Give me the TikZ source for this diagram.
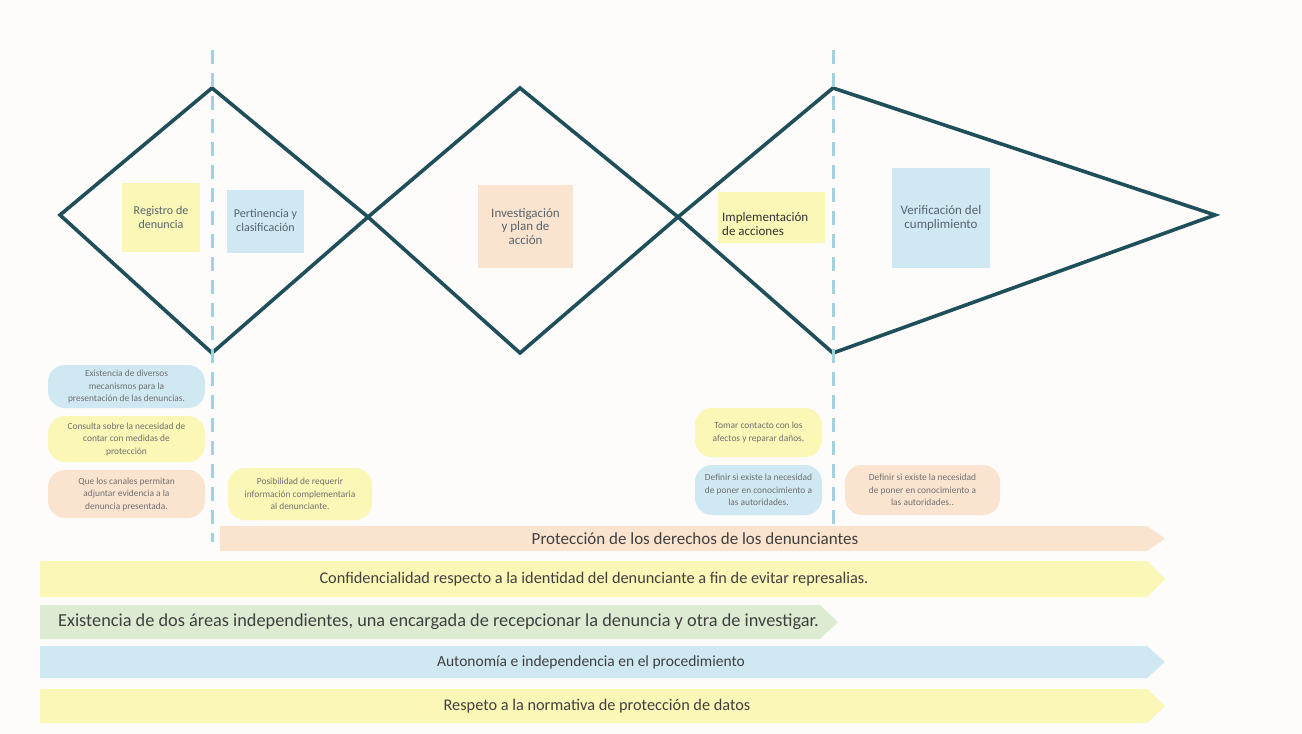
\documentclass[tikz,border=0pt]{standalone}
\usepackage{fontspec}
\setmainfont{Carlito}
\definecolor{bg}{HTML}{FDFCFA}
\definecolor{teal}{HTML}{1F4F5A}
\definecolor{dash}{HTML}{A3D2DF}
\definecolor{cyel}{HTML}{FBF7B6}
\definecolor{cpea}{HTML}{FBE4CF}
\definecolor{cblu}{HTML}{CFE8F2}
\definecolor{cgrn}{HTML}{DDEBD2}
\definecolor{ptxt}{HTML}{707070}
\definecolor{ltxt}{HTML}{56646E}
\definecolor{atxt}{HTML}{404040}
\begin{document}
\begin{tikzpicture}[x=1pt,y=-1pt,
  pill/.style={draw=none,rounded corners=17pt,align=center,text=ptxt,
     font=\fontsize{9.4}{12.5}\selectfont,inner sep=0pt},
  lbltxt/.style={align=center,text=ltxt,inner sep=0pt,font=\fontsize{11.5}{14}\selectfont},
  bandtxt/.style={text=atxt,inner sep=0pt,font=\fontsize{15}{18}\selectfont},
  dashline/.style={draw=dash,line width=3pt,dash pattern=on 14pt off 9pt},
  outline/.style={draw=teal,line width=3.6pt,line join=miter}]
\fill[bg] (0,0) rectangle (1302,734);
\useasboundingbox (0,0) rectangle (1302,734);

% label boxes
\node[fill=cyel,minimum width=78pt,minimum height=69pt] (l1) at (161,217.5) {};
\node[lbltxt,font=\fontsize{12}{14}\selectfont] (l1t) at (l1.center) {Registro de\\denuncia};
\node[fill=cblu,minimum width=77pt,minimum height=63pt] (l2) at (265.5,221.5) {};
\node[lbltxt,font=\fontsize{12}{14}\selectfont] (l2t) at (265.5,220) {Pertinencia y\\clasificación};
\node[fill=cpea,minimum width=95pt,minimum height=83pt] (l3) at (525.5,226.5) {};
\node[lbltxt,font=\fontsize{13}{13.5}\selectfont] (l3t) at (l3.center) {Investigación\\y plan de\\acción};
\node[fill=cyel,minimum width=107pt,minimum height=51pt] (l4) at (771.5,217.5) {};
\node[lbltxt,align=left,anchor=west,text=black!80,font=\fontsize{13}{14}\selectfont] (l4t) at (722,224) {Implementación\\de acciones};
\node[fill=cblu,minimum width=98pt,minimum height=100pt] (l5) at (941,218) {};
\node[lbltxt,font=\fontsize{13}{14}\selectfont] (l5t) at (l5.center) {Verificación del\\cumplimiento};

% outline
\coordinate (v0) at (60,215);
\coordinate (t1) at (212,88);
\coordinate (b1) at (212,353);
\coordinate (x1) at (368,217);
\coordinate (t2) at (520,88);
\coordinate (b2) at (520,353);
\coordinate (x2) at (678,217);
\coordinate (t3) at (833,88);
\coordinate (b3) at (833,353);
\coordinate (tip) at (1215,215);
\draw[outline] (v0) -- (t1) -- (x1) -- (b2) -- (x2) -- (t3) -- (tip) -- (b3) -- (x2) -- (t2) -- (x1) -- (b1) -- cycle;

% dashed lines
\coordinate (d1a) at (212,50);
\coordinate (d1b) at (212,542);
\coordinate (d2a) at (833,50);
\coordinate (d2b) at (833,528);
\draw[dashline] (d1a) -- (d1b);
\draw[dashline] (d2a) -- (d2b);

% pills
\node[pill,fill=cblu,minimum width=157pt,minimum height=43pt] (p1) at (126.5,386.5) {Existencia de diversos\\mecanismos para la\\presentación de las denuncias.};
\node[pill,fill=cyel,minimum width=157pt,minimum height=46pt] (p2) at (126.5,439) {Consulta sobre la necesidad de\\contar con medidas de\\protección};
\node[pill,fill=cpea,minimum width=157pt,minimum height=48pt] (p3) at (126.5,494) {Que los canales permitan\\adjuntar evidencia a la\\denuncia presentada.};
\node[pill,fill=cyel,minimum width=144pt,minimum height=52pt] (p4) at (300,494) {Posibilidad de requerir\\información complementaria\\al denunciante.};
\node[pill,fill=cyel,minimum width=127pt,minimum height=49pt] (p5) at (758.5,432.5) {Tomar contacto con los\\afectos y reparar daños.};
\node[pill,fill=cblu,minimum width=127pt,minimum height=50pt] (p6) at (758.5,490) {Definir si existe la necesidad\\de poner en conocimiento a\\las autoridades.};
\node[pill,fill=cpea,minimum width=155pt,minimum height=50pt] (p7) at (922.5,490) {Definir si existe la necesidad\\de poner en conocimiento a\\las autoridades..};

% bands
\fill[cpea] (220,526) -- (1147,526) -- (1165,538.5) -- (1147,551) -- (220,551) -- cycle;
\node[bandtxt,font=\fontsize{17}{18}\selectfont] (a1) at (695,538.5) {Protección de los derechos de los denunciantes};
\fill[cyel] (40,561) -- (1147,561) -- (1165,579) -- (1147,597) -- (40,597) -- cycle;
\node[bandtxt,font=\fontsize{16.3}{18}\selectfont] (a2) at (594,579) {Confidencialidad respecto a la identidad del denunciante a fin de evitar represalias.};
\fill[cgrn] (40,605) -- (820,605) -- (838,622) -- (820,639) -- (40,639) -- cycle;
\node[bandtxt,anchor=west,font=\fontsize{18.3}{18}\selectfont] (a3) at (58,622) {Existencia de dos áreas independientes, una encargada de recepcionar la denuncia y otra de investigar.};
\fill[cblu] (40,646) -- (1147,646) -- (1165,662) -- (1147,678) -- (40,678) -- cycle;
\node[bandtxt,font=\fontsize{15.5}{18}\selectfont] (a4) at (591,662) {Autonomía e independencia en el procedimiento};
\fill[cyel] (40,689) -- (1147,689) -- (1165,706) -- (1147,723) -- (40,723) -- cycle;
\node[bandtxt,font=\fontsize{16.3}{18}\selectfont] (a5) at (597,706) {Respeto a la normativa de protección de datos};
\end{tikzpicture}
\end{document}
